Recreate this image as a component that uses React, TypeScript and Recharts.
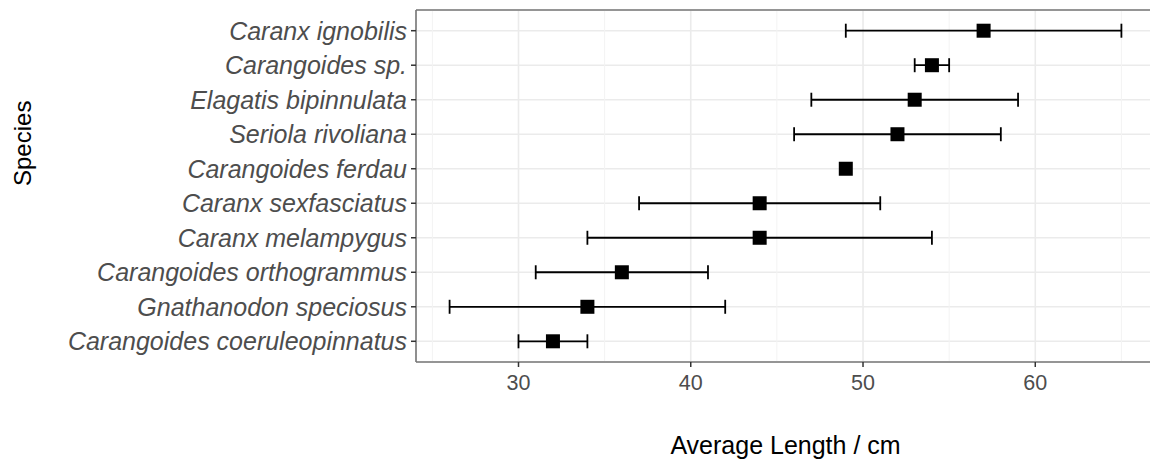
import {
  ScatterChart,
  Scatter,
  XAxis,
  YAxis,
  CartesianGrid,
  ErrorBar,
  ReferenceLine,
} from "recharts"

// top to bottom, as drawn
const species = [
  "Caranx ignobilis",
  "Carangoides sp.",
  "Elagatis bipinnulata",
  "Seriola rivoliana",
  "Carangoides ferdau",
  "Caranx sexfasciatus",
  "Caranx melampygus",
  "Carangoides orthogrammus",
  "Gnathanodon speciosus",
  "Carangoides coeruleopinnatus",
]
const meanLength = [57, 54, 53, 52, 49, 44, 44, 36, 34, 32]
const minLength: (number | null)[] = [49, 53, 47, 46, null, 37, 34, 31, 26, 30]
const maxLength: (number | null)[] = [65, 55, 59, 58, null, 51, 54, 41, 42, 34]

const majorTicks = [30, 40, 50, 60]
const minorTicks = [25, 35, 45, 55, 65]
const rowTicks = [1, 2, 3, 4, 5, 6, 7, 8, 9, 10]

const xDomain = [24.05, 66.95]
const yDomain = [0.4, 10.6]

const font = '"Liberation Sans", Arial, sans-serif'

const data = species.map((name, i) => {
  const lo = minLength[i]
  const hi = maxLength[i]
  return {
    name,
    row: species.length - i,
    mean: meanLength[i],
    err: lo == null || hi == null ? null : [meanLength[i] - lo, hi - meanLength[i]],
  }
})

const Square = (props: any) => {
  const { cx, cy } = props
  return <rect x={cx - 7} y={cy - 7} width={14} height={14} fill="#000" />
}

const border = { stroke: "#777", strokeWidth: 1.6 }

export default function App() {
  // absolutely placed so the page never grows a scrollbar
  return (
    <div
      style={{
        position: "absolute",
        left: 8,
        top: 8,
        width: 1142,
        height: 454,
        overflow: "hidden",
      }}
    >
      <div style={{ width: 1147, height: 454 }}>
        <ScatterChart
          width={1147}
          height={454}
          margin={{ top: 2, right: 0, bottom: 0, left: 0 }}
        >
          <CartesianGrid stroke="#ebebeb" strokeWidth={1.6} />
          {minorTicks.map((v) => (
            <ReferenceLine key={v} x={v} stroke="#f3f3f3" strokeWidth={1} />
          ))}
          <XAxis
            type="number"
            dataKey="mean"
            domain={xDomain}
            allowDataOverflow
            ticks={majorTicks}
            height={100}
            tickSize={5}
            tickMargin={8}
            axisLine={border}
            tickLine={{ stroke: "#333", strokeWidth: 1.5 }}
            tick={{ fill: "#4d4d4d", fontSize: 21.5, fontFamily: font }}
            label={{
              value: "Average Length / cm",
              position: "insideBottom",
              offset: 8,
              fill: "#000",
              fontSize: 25,
              fontFamily: font,
            }}
          />
          <YAxis
            type="number"
            dataKey="row"
            domain={yDomain}
            allowDataOverflow
            ticks={rowTicks}
            width={408}
            tickSize={5}
            tickMargin={4}
            axisLine={border}
            tickLine={{ stroke: "#333", strokeWidth: 1.5 }}
            tickFormatter={(v: number) => species[species.length - v]}
            tick={{ fill: "#4d4d4d", fontSize: 25, fontStyle: "italic", fontFamily: font }}
            label={{
              value: "Species",
              angle: -90,
              position: "insideLeft",
              offset: 14,
              fill: "#000",
              fontSize: 24,
              fontFamily: font,
            }}
          />
          <Scatter data={data} shape={<Square />} isAnimationActive={false}>
            <ErrorBar
              dataKey="err"
              direction="x"
              width={7}
              stroke="#000"
              strokeWidth={1.8}
            />
          </Scatter>
          {/* top edge of the panel; the right edge lies outside the picture */}
          <ReferenceLine y={yDomain[1]} {...border} />
        </ScatterChart>
      </div>
    </div>
  )
}
